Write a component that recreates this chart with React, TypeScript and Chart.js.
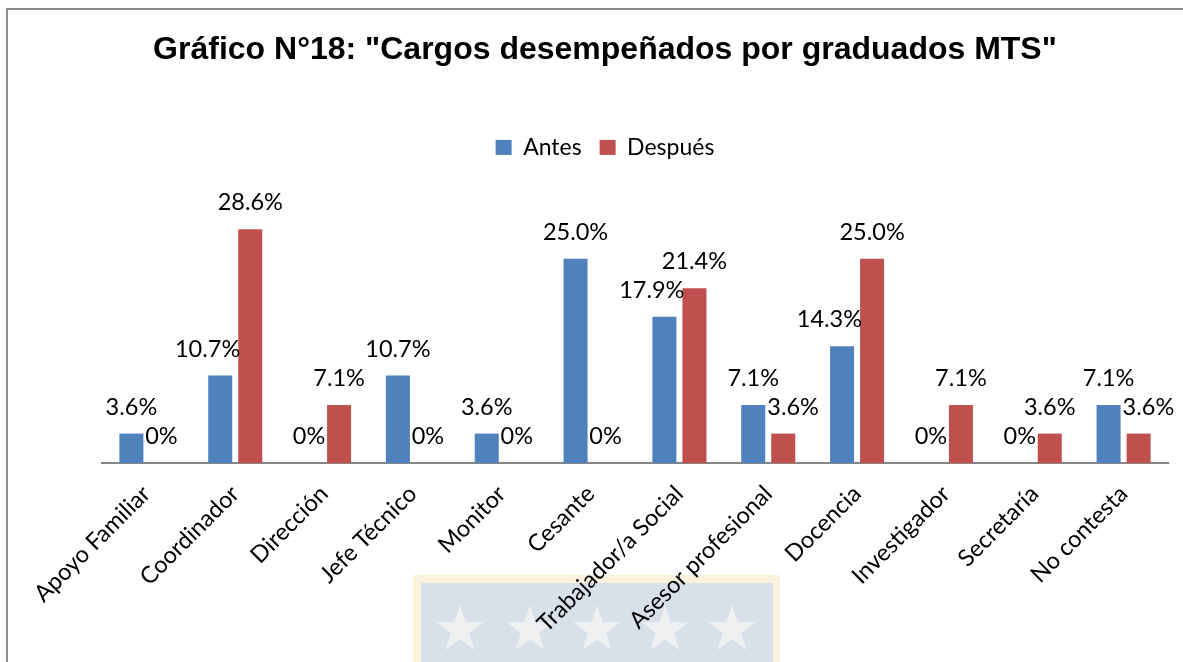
import React, { useEffect, useRef } from "react";
import { Chart, registerables } from "chart.js";

Chart.register(...registerables);

const categories = [
  "Apoyo Familiar",
  "Coordinador",
  "Dirección",
  "Jefe Técnico",
  "Monitor",
  "Cesante",
  "Trabajador/a Social",
  "Asesor profesional",
  "Docencia",
  "Investigador",
  "Secretaría",
  "No contesta",
];
const antes = [3.6, 10.7, 0, 10.7, 3.6, 25.0, 17.9, 7.1, 14.3, 0, 0, 7.1];
const despues = [0, 28.6, 7.1, 0, 0, 0, 21.4, 3.6, 25.0, 7.1, 3.6, 3.6];
const seriesNames = ["Antes", "Después"];
const titleText = 'Gráfico N°18: "Cargos desempeñados por graduados MTS"';

const BLUE = "#4F81BD";
const RED = "#C0504D";
const LABEL_FONT = "23.5px Lato";

const fmt = (v: number) => (v === 0 ? "0%" : v.toFixed(1) + "%");

const watermarkPlugin = {
  id: "watermark",
  beforeDraw(chart: any) {
    const ctx = chart.ctx;
    ctx.save();
    ctx.fillStyle = "#FBF1DC";
    ctx.fillRect(413, 575, 367, 90);
    ctx.fillStyle = "#D8E0EA";
    ctx.fillRect(421, 583, 352, 90);
    ctx.fillStyle = "#EEF0F2";
    const cxs = [460, 530, 597, 665, 732];
    for (const cx of cxs) {
      const cy = 630;
      const R = 25;
      const r = R * 0.382;
      ctx.beginPath();
      for (let i = 0; i < 10; i++) {
        const ang = -Math.PI / 2 + (i * Math.PI) / 5;
        const rad = i % 2 === 0 ? R : r;
        const px = cx + rad * Math.cos(ang);
        const py = cy + rad * Math.sin(ang);
        if (i === 0) ctx.moveTo(px, py);
        else ctx.lineTo(px, py);
      }
      ctx.closePath();
      ctx.fill();
    }
    ctx.restore();
  },
};

const labelPlugin = {
  id: "barLabels",
  afterDatasetsDraw(chart: any) {
    const ctx = chart.ctx;
    ctx.save();
    ctx.font = LABEL_FONT;
    ctx.fillStyle = "#000";
    ctx.textAlign = "center";
    ctx.textBaseline = "alphabetic";
    const m0 = chart.getDatasetMeta(0);
    const m1 = chart.getDatasetMeta(1);
    const d0 = chart.data.datasets[0].data as number[];
    const d1 = chart.data.datasets[1].data as number[];
    for (let i = 0; i < d0.length; i++) {
      const b0 = m0.data[i] as any;
      const b1 = m1.data[i] as any;
      {
        const t = fmt(d0[i]);
        const w = ctx.measureText(t).width;
        let x = b0.x;
        const otherLeft = b1.x - b1.width / 2;
        if (d1[i] > d0[i] && x + w / 2 > otherLeft + 2) x = otherLeft + 2 - w / 2;
        ctx.fillText(t, x, b0.y - 19);
      }
      {
        const t = fmt(d1[i]);
        const w = ctx.measureText(t).width;
        let x = b1.x;
        const otherRight = b0.x + b0.width / 2;
        if (d0[i] > d1[i] && x - w / 2 < otherRight + 1) x = otherRight + 2 + w / 2;
        ctx.fillText(t, x, b1.y - 19);
      }
    }
    ctx.restore();
  },
};

export default function App() {
  const ref = useRef<HTMLCanvasElement | null>(null);
  useEffect(() => {
    document.body.style.margin = "0";
    if (!ref.current) return;
    const chart = new Chart(ref.current, {
      type: "bar",
      data: {
        labels: categories,
        datasets: [
          { label: seriesNames[0], data: antes, backgroundColor: BLUE },
          { label: seriesNames[1], data: despues, backgroundColor: RED },
        ],
      },
      plugins: [watermarkPlugin, labelPlugin],
      options: {
        animation: false,
        responsive: false,
        events: [],
        layout: { padding: { left: 42, right: 15, top: 0, bottom: 0 } },
        datasets: {
          bar: { categoryPercentage: 0.676, barPercentage: 0.8 },
        },
        plugins: {
          title: {
            display: true,
            text: titleText,
            color: "#000",
            font: { family: "'Liberation Sans', Arial", size: 32, weight: "bold" },
            padding: { top: 31, bottom: 48.5 },
          },
          legend: {
            display: true,
            position: "top",
            labels: {
              color: "#000",
              font: { family: "Lato", size: 23 },
              boxWidth: 16,
              boxHeight: 15,
              padding: 18,
            },
          },
          tooltip: { enabled: false },
        },
        scales: {
          x: {
            grid: { display: false },
            border: { display: true, color: "#868686", width: 2 },
            ticks: {
              color: "#000",
              font: { family: "Lato", size: 23.5 },
              minRotation: 45,
              maxRotation: 45,
              autoSkip: false,
              padding: 9,
            },
            afterFit: (scale: any) => {
              scale.height = 199;
            },
          },
          y: {
            min: 0,
            max: 36,
            display: true,
            grid: { display: false },
            border: { display: false },
            ticks: { display: false },
            afterFit: (scale: any) => {
              scale.width = 60;
            },
          },
        },
      },
    });
    return () => chart.destroy();
  }, []);
  return (
    <div style={{ position: "relative", width: 1183, height: 662, overflow: "hidden" }}>
      <canvas ref={ref} width={1183} height={662} style={{ display: "block" }} />
      <div
        style={{
          position: "absolute",
          left: 6,
          top: 8,
          width: 1300,
          height: 800,
          borderLeft: "2px solid #8C8C8C",
          borderTop: "2px solid #8C8C8C",
          pointerEvents: "none",
        }}
      />
    </div>
  );
}
